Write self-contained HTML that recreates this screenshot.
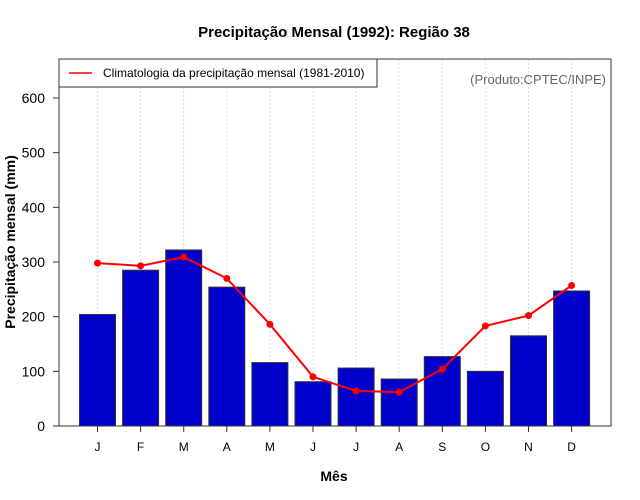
<!DOCTYPE html>
<html><head><meta charset="utf-8"><style>
body{margin:0;background:#fff;}
svg{display:block;font-family:"Liberation Sans",sans-serif;}
</style></head><body>
<svg id="c" width="640" height="500">
<text x="334" y="37" text-anchor="middle" font-weight="bold" font-size="15">Precipitação Mensal (1992): Região 38</text>
<text x="334" y="481" text-anchor="middle" font-weight="bold" font-size="14">Mês</text>
<text transform="translate(15,242) rotate(-90)" text-anchor="middle" font-weight="bold" font-size="14">Precipitação mensal (mm)</text>
<g id="grid"></g><g id="bars"></g><g id="line"></g><g id="axes"></g>
<rect x="59" y="59" width="552" height="367" fill="none" stroke="#333" stroke-width="1"/>
<g>
<rect x="59" y="59" width="318" height="28" fill="#fff" stroke="#333"/>
<line x1="69" y1="73" x2="92" y2="73" stroke="red" stroke-width="1.5"/>
<text x="103" y="77" font-size="12">Climatologia da precipitação mensal (1981-2010)</text>
</g>
<text x="606" y="84" text-anchor="end" font-size="13" fill="#666">(Produto:CPTEC/INPE)</text>
</svg>
<script>
const months=["J","F","M","A","M","J","J","A","S","O","N","D"];
const precip=[204,285,322,254,116,81,106,86,127,100,165,247];
const climatology=[298,293,309,270,186,90,64,62,104,183,202,257];
const yTicks=[0,100,200,300,400,500,600];
const NS="http://www.w3.org/2000/svg";
const x=i=>97.5+i*43.1;
const y=v=>426-v*(328/600);
function mk(t,a,p){const e=document.createElementNS(NS,t);for(const k in a)e.setAttribute(k,a[k]);p.appendChild(e);return e;}
const grid=document.getElementById('grid'),bars=document.getElementById('bars'),line=document.getElementById('line'),axes=document.getElementById('axes');
months.forEach((m,i)=>{
 const g=mk('line',{x1:x(i),x2:x(i),y1:59,y2:426,stroke:'#ddd','stroke-dasharray':'2,2'},grid);
 
 
 const b=mk('rect',{x:x(i)-18,y:y(precip[i]),width:36,height:426-y(precip[i]),fill:'#0000cd',stroke:'#333','stroke-width':1},bars);
 
 
 const t=mk('line',{x1:x(i),x2:x(i),y1:426,y2:432,stroke:'#333'},axes);
 
 
 const l=mk('text',{x:x(i),y:451,'text-anchor':'middle','font-size':12},axes);l.textContent=m;
 
 
});
const p=mk('polyline',{points:climatology.map((v,i)=>x(i)+','+y(v)).join(' '),fill:'none',stroke:'red','stroke-width':2},line);


climatology.forEach((v,i)=>{const c=mk('circle',{cx:x(i),cy:y(v),r:3.5,fill:'red'},line);
 
 });
const ax=mk('line',{x1:59,x2:59,y1:y(0),y2:y(600),stroke:'#333'},axes);


yTicks.forEach(v=>{
 const t=mk('line',{x1:53,x2:59,y1:y(v),y2:y(v),stroke:'#333'},axes);
 
 
 const l=mk('text',{x:45,y:y(v)+5,'text-anchor':'end','font-size':14},axes);l.textContent=v;
 
 
});
</script>
</body></html>
